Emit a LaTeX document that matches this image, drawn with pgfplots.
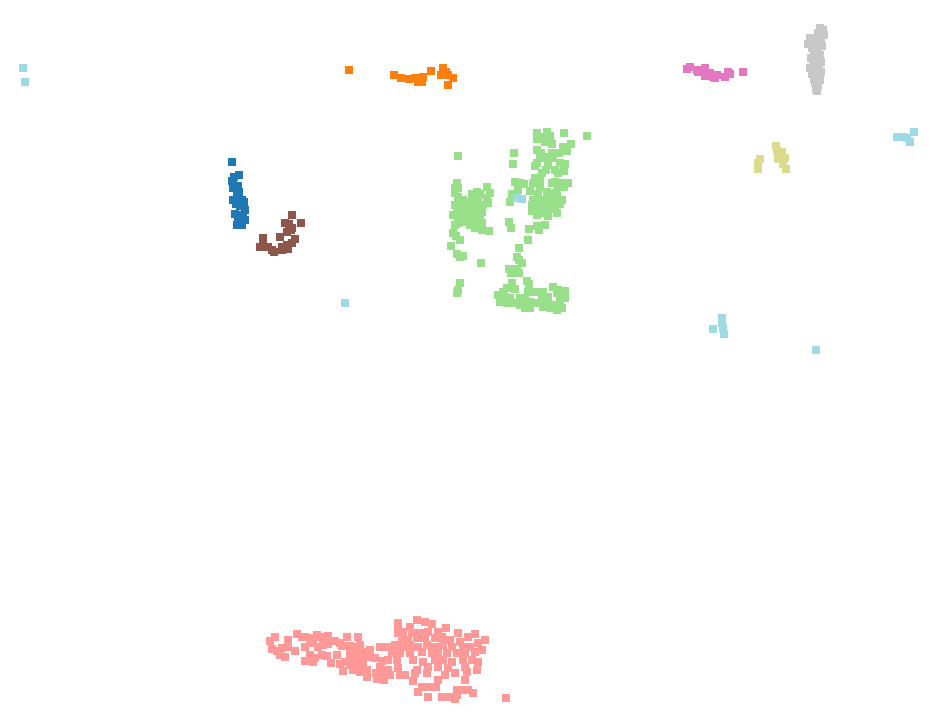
\documentclass[border=0pt]{standalone}
\usepackage{pgfplots}
\pgfplotsset{compat=1.18}
\definecolor{tblue}{HTML}{1F77B4}
\definecolor{torange}{HTML}{FF7F0E}
\definecolor{tgreen}{HTML}{98DF8A}
\definecolor{tsalmon}{HTML}{FF9896}
\definecolor{tbrown}{HTML}{8C564B}
\definecolor{tpink}{HTML}{E377C2}
\definecolor{tgray}{HTML}{C7C7C7}
\definecolor{tolive}{HTML}{DBDB8D}
\definecolor{tcyan}{HTML}{9EDAE5}
\pgfplotsset{
  pts/.style={only marks, mark=square*, mark size=0.03cm,
    mark options={draw=#1, fill=#1}, color=#1}
}
\begin{document}
\begin{tikzpicture}
\begin{axis}[
  width=9.36cm, height=7.23cm, scale only axis,
  xmin=0, xmax=936, ymin=0, ymax=723, y dir=reverse,
  hide axis, clip=false
]
% keep the full canvas as the bounding box
\path (rel axis cs:0,0) rectangle (rel axis cs:1,1);

\addplot[pts=tgreen] coordinates {
(458,156)
(457,183)(455,188)(458,188)(487,187)(477,192)(472,194)(480,194)(490,193)
(455,193)(458,197)(463,200)(468,202)(473,200)(478,198)(487,198)(455,205)
(460,207)(467,208)(472,207)(477,206)(483,205)(488,203)(457,210)(463,213)
(470,213)(477,213)(482,212)(453,215)(460,217)(468,217)(473,217)(480,217)
(514,153)(513,164)(515,182)(520,183)(524,184)(512,194)(518,190)(510,202)
(537,133)(547,132)(543,137)(550,136)(564,133)(587,136)(537,139)(545,142)
(552,144)(563,147)(571,144)(567,151)(537,150)(541,153)(552,153)(559,153)
(548,157)(553,158)(540,158)(537,163)(535,166)(548,165)(560,163)(565,164)
(555,170)(546,170)(542,173)(564,171)(558,173)(535,178)(540,181)(533,183)
(555,182)(552,183)(562,183)(568,183)(564,187)(540,187)(558,187)(530,191)
(538,194)(547,192)(553,194)(557,192)(533,200)(540,200)(547,200)(555,200)
(562,200)(532,205)(538,203)(545,204)(553,205)(560,204)(532,211)(540,210)
(548,209)(555,209)(537,215)(543,213)(548,216)(557,213)
(455,225)(458,223)(453,233)(456,236)(460,240)(451,246)(457,254)(460,257)
(463,256)(481,263)(460,283)(458,290)(457,293)
(462,222)(470,225)(475,228)(482,230)(489,231)(482,223)(477,222)
(509,222)(511,228)(529,229)(537,226)(539,230)(545,225)(528,240)(519,248)
(517,257)(519,260)(522,263)(509,269)(511,273)(517,269)(519,273)(512,283)
(515,289)(527,281)(529,284)
(507,288)(503,292)(498,295)(505,297)(510,298)(500,302)(507,303)(512,303)
(528,292)(535,292)(543,292)(553,287)(558,290)(565,291)(557,293)(525,300)
(530,302)(520,305)(525,308)(530,308)(537,303)(542,299)(548,297)(543,307)
(550,308)(555,305)(560,300)(565,298)(557,310)(562,308)(547,303)(520,298)
};

\addplot[pts=tsalmon] coordinates {
(275,637)(270,641)(288,640)(297,634)(302,637)(305,637)(312,638)(317,635)
(320,637)(328,636)(347,637)(358,637)(288,647)(272,649)(277,651)(282,648)
(295,651)(280,655)(285,657)(305,647)(310,643)(313,642)(318,647)(323,645)
(328,644)(335,641)(340,643)(342,646)(350,646)(355,647)(360,645)(310,655)
(315,658)(322,655)(327,656)(337,655)(350,652)(357,650)(363,652)(370,650)
(305,661)(313,662)(331,663)(340,664)(345,662)(350,660)(355,657)(362,658)
(367,657)(375,658)(380,647)(382,661)(350,665)(357,665)(363,665)(343,671)
(353,670)(360,672)(367,670)(380,667)(367,677)(376,673)(377,679)(384,680)
(382,672)
(398,623)(417,620)(425,622)(432,624)(398,627)(410,627)(446,628)(398,633)
(403,632)(412,633)(420,633)(428,632)(438,632)(458,633)(475,634)(468,637)
(485,640)(402,640)(408,640)(417,638)(425,638)(435,638)(442,637)(450,640)
(460,642)(478,643)(388,647)(395,645)(402,647)(410,645)(418,647)(427,645)
(435,647)(443,645)(452,647)(463,647)(470,647)(482,650)(392,653)(400,653)
(410,653)(422,652)(432,653)(438,652)(447,653)(457,653)(465,653)(475,652)
(388,660)(397,660)(413,660)(423,662)(435,660)(443,660)(452,662)(463,660)
(472,660)(478,662)(388,670)(398,668)(417,670)(428,667)(438,667)(448,668)
(465,667)(477,670)(390,675)(400,675)(405,675)(415,673)(427,673)(445,675)
(455,673)(467,672)(413,681)(438,680)(465,680)(422,687)(430,687)(436,687)
(457,690)(460,690)(468,690)(473,693)(418,692)(428,697)(442,697)(450,697)
(455,699)(457,695)(506,698)
};

\addplot[pts=tblue] coordinates {
(232,162)(234,177)(239,175)(232,181)(233,183)(238,186)(233,188)(237,193)
(239,192)(233,200)(238,198)(242,200)(244,202)(236,204)(240,206)(245,210)
(235,214)(239,215)(243,217)(245,220)(237,225)(242,225)(238,220)
};

\addplot[pts=tbrown] coordinates {
(292,215)(301,223)(285,223)(289,224)(292,228)(287,232)(291,230)(280,237)
(263,238)(263,242)(295,239)(292,243)(287,245)(260,247)(268,247)(272,250)
(274,252)(282,247)(282,250)(285,248)(288,249)
};

\addplot[pts=torange] coordinates {
(349,70)(394,75)(401,78)(409,79)(418,80)(415,78)(420,78)(423,77)(422,82)
(418,82)(431,71)(443,68)(446,72)(441,75)(448,75)(453,78)(448,85)
};

\addplot[pts=tpink] coordinates {
(687,69)(690,67)(697,70)(698,72)(705,68)(705,76)(710,73)(713,77)(717,75)
(715,78)(725,77)(728,72)(730,74)(743,72)
};

\addplot[pts=tgray] coordinates {
(820,28)(823,30)(818,33)(824,35)(810,38)(815,38)(821,40)(808,44)(816,44)
(822,46)(812,48)(818,50)(814,53)(820,55)(811,58)(817,60)(821,62)(813,64)
(819,66)(810,68)(816,70)(821,72)(812,74)(818,76)(814,79)(820,80)(815,83)
(818,86)(816,89)(817,91)
};

\addplot[pts=tolive] coordinates {
(776,146)(777,150)(782,152)(785,158)(778,158)(779,159)(783,164)(786,169)
(760,159)(758,163)(758,169)
};

\addplot[pts=tcyan] coordinates {
(23,68)(25,82)
(897,137)(903,137)(907,138)(910,142)(914,132)
(713,329)(722,318)(722,323)(723,328)(724,334)(816,350)
(345,303)(517,198)(522,199)
};
\end{axis}
\end{tikzpicture}
\end{document}
